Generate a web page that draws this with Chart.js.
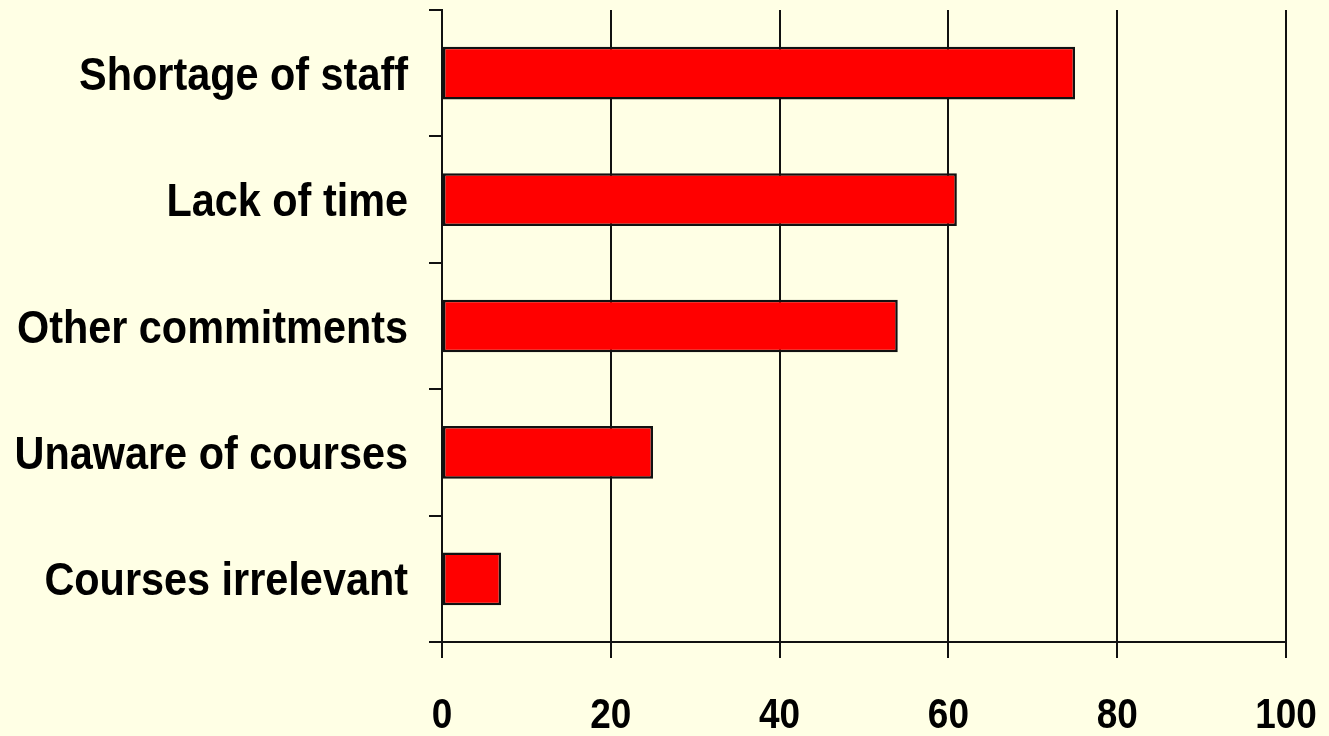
<!DOCTYPE html>
<html>
<head>
<meta charset="utf-8">
<script src="https://cdn.jsdelivr.net/npm/chart.js@4.4.0/dist/chart.umd.min.js"></script>
<style>
  html, body { margin: 0; padding: 0; background: #FFFFE5; }
  #wrap { width: 1329px; height: 736px; }
</style>
</head>
<body>
<div id="wrap"><canvas id="c" width="1329" height="736"></canvas></div>
<script>
const categories = ["Shortage of staff", "Lack of time", "Other commitments", "Unaware of courses", "Courses irrelevant"];
const values = [75, 61, 54, 25, 7];
const xTicks = [0, 20, 40, 60, 80, 100];

const FONT = 'bold 46px "Liberation Sans", Arial, sans-serif';
const XFONT = 'bold 42px "Liberation Sans", Arial, sans-serif';

const bgPlugin = {
  id: 'bg',
  beforeDraw(chart) {
    const ctx = chart.ctx;
    ctx.save();
    ctx.fillStyle = '#FFFFE5';
    ctx.fillRect(0, 0, chart.width, chart.height);
    ctx.restore();
  }
};

// Draw tick labels slightly condensed (as in the reference) at the scale's own tick positions
const labelPlugin = {
  id: 'condensedLabels',
  afterDraw(chart) {
    const ctx = chart.ctx;
    const ys = chart.scales.y, xs = chart.scales.x;
    ctx.save();
    ctx.fillStyle = '#000';
    ctx.font = FONT;
    ctx.textAlign = 'right';
    ctx.textBaseline = 'alphabetic';
    ys.ticks.forEach((t, i) => {
      const y = ys.getPixelForTick(i);
      ctx.save();
      ctx.translate(ys.right - 13 - 21, y + 16.5);
      ctx.scale(0.9, 1);
      ctx.fillText(ys.getLabelForValue(t.value), 0, 0);
      ctx.restore();
    });
    ctx.font = XFONT;
    ctx.textAlign = 'center';
    xs.ticks.forEach((t, i) => {
      const x = xs.getPixelForTick(i);
      ctx.save();
      ctx.translate(x, xs.top + 86);
      ctx.scale(0.88, 1);
      ctx.fillText(String(t.value), 0, 0);
      ctx.restore();
    });
    ctx.restore();
  }
};

new Chart(document.getElementById('c'), {
  type: 'bar',
  data: {
    labels: categories,
    datasets: [{
      data: values,
      backgroundColor: '#FF0000',
      borderColor: '#111111',
      borderWidth: 2.5,
      borderSkipped: false,
      categoryPercentage: 1.0,
      barPercentage: 0.417
    }]
  },
  options: {
    indexAxis: 'y',
    responsive: false,
    animation: false,
    devicePixelRatio: 1,
    layout: { padding: { top: 10, right: 43, left: 0, bottom: 0 } },
    plugins: { legend: { display: false }, tooltip: { enabled: false } },
    scales: {
      x: {
        min: 0, max: 100,
        afterBuildTicks(scale) { scale.ticks = xTicks.map(v => ({ value: v })); },
        afterFit(scale) { scale.height = 94; scale.paddingLeft = 0; scale.paddingRight = 0; },
        grid: { color: '#111', lineWidth: 2, tickLength: 16, drawTicks: true },
        border: { color: '#111', width: 2 },
        ticks: { display: false }
      },
      y: {
        afterFit(scale) { scale.width = 442; scale.paddingTop = 0; scale.paddingBottom = 0; },
        grid: { color: '#111', lineWidth: 2, tickLength: 13, drawOnChartArea: false, offset: true },
        border: { color: '#111', width: 2 },
        ticks: { display: false }
      }
    }
  },
  plugins: [bgPlugin, labelPlugin]
});
</script>
</body>
</html>
